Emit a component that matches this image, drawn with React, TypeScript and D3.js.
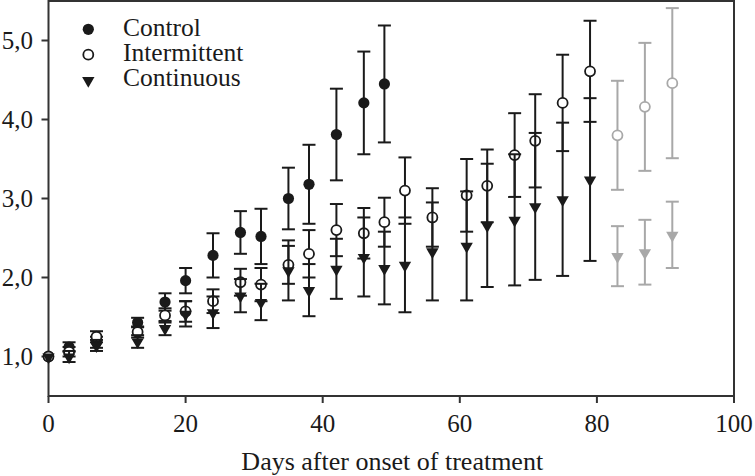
import React from "react";
import * as d3 from "d3";

const days = [0, 3, 7, 13, 17, 20, 24, 28, 31, 35, 38, 42, 46, 49, 52, 56, 61, 64, 68, 71, 75, 79];
const lateDays = [83, 87, 91];

const controlDays = [0, 3, 7, 13, 17, 20, 24, 28, 31, 35, 38, 42, 46, 49];
const controlMean = [1.0, 1.12, 1.18, 1.43, 1.69, 1.96, 2.28, 2.57, 2.52, 3.0, 3.18, 3.81, 4.21, 4.45];
const controlErr = [0, 0.06, 0.07, 0.06, 0.11, 0.16, 0.28, 0.27, 0.35, 0.39, 0.5, 0.58, 0.65, 0.74];

const intermittentMean = [1.0, 1.06, 1.25, 1.31, 1.52, 1.57, 1.7, 1.94, 1.91, 2.16, 2.3, 2.6, 2.56, 2.7, 3.1, 2.76, 3.04, 3.16, 3.55, 3.73, 4.21, 4.61];
const intermittentErr = [0, 0.06, 0.07, 0.07, 0.09, 0.13, 0.15, 0.17, 0.21, 0.24, 0.3, 0.33, 0.32, 0.31, 0.42, 0.37, 0.46, 0.46, 0.53, 0.59, 0.61, 0.64];
const intermittentLateMean = [3.8, 4.16, 4.46];
const intermittentLateErr = [0.69, 0.81, 0.95];

const continuousMean = [1.0, 1.0, 1.14, 1.19, 1.36, 1.54, 1.56, 1.77, 1.69, 2.09, 1.84, 2.11, 2.26, 2.12, 2.16, 2.33, 2.4, 2.66, 2.73, 2.9, 2.99, 3.24];
const continuousErr = [0, 0.07, 0.07, 0.08, 0.09, 0.16, 0.2, 0.21, 0.23, 0.38, 0.33, 0.38, 0.5, 0.46, 0.6, 0.62, 0.69, 0.78, 0.83, 0.93, 0.97, 1.03];
const continuousLateMean = [2.27, 2.32, 2.54];
const continuousLateErr = [0.38, 0.41, 0.42];

const xTicks = [0, 20, 40, 60, 80, 100];
const yTicks = [1, 2, 3, 4, 5];
const legendLabels = ["Control", "Intermittent", "Continuous"];

const W = 755;
const H = 476;
const FONT = "'Liberation Serif', 'Times New Roman', serif";
const INK = "#1a1a1a";
const GRAY = "#a8a8a8";

type Kind = "filled" | "open" | "tri";

const x = d3.scaleLinear().domain([0, 100]).range([48.5, 734]);
const y = d3.scaleLinear().domain([0.5, 5.5]).range([396, 1]);

const triPath = d3.symbol().type(d3.symbolTriangle).size(66)() as string;

function Marker({ cx, cy, kind, color }: { cx: number; cy: number; kind: Kind; color: string }) {
  if (kind === "filled") return <circle cx={cx} cy={cy} r={5.6} fill={color} />;
  if (kind === "open")
    return <circle cx={cx} cy={cy} r={5} fill="#fff" stroke={color} strokeWidth={1.8} />;
  return <path d={triPath} transform={`translate(${cx},${cy + 0.5}) rotate(180)`} fill={color} />;
}

function Series({
  xs,
  means,
  errs,
  kind,
  color,
}: {
  xs: number[];
  means: number[];
  errs: number[];
  kind: Kind;
  color: string;
}) {
  const cap = 6.5;
  return (
    <g>
      {xs.map((d, i) => {
        if (!errs[i]) return null;
        const px = x(d);
        const top = y(means[i] + errs[i]);
        const bot = y(means[i] - errs[i]);
        return (
          <g key={"e" + i} stroke={color} strokeWidth={2}>
            <line x1={px} x2={px} y1={top} y2={bot} />
            <line x1={px - cap} x2={px + cap} y1={top} y2={top} />
            <line x1={px - cap} x2={px + cap} y1={bot} y2={bot} />
          </g>
        );
      })}
      {xs.map((d, i) => (
        <Marker key={"m" + i} cx={x(d)} cy={y(means[i])} kind={kind} color={color} />
      ))}
    </g>
  );
}

export default function App() {
  const [x0, x1] = x.range();
  const [y0, y1] = y.range();
  const kinds: Kind[] = ["filled", "open", "tri"];
  return (
    <svg
      width={W}
      height={H}
      style={{ position: "absolute", left: 0, top: 0, background: "#fff" }}
      fontFamily={FONT}
    >
      <rect x={0} y={0} width={W} height={H} fill="#fff" />
      <rect x={x0} y={y1} width={x1 - x0} height={y0 - y1} fill="none" stroke="#333" strokeWidth={2} />
      {yTicks.map((t) => (
        <g key={"y" + t}>
          <line x1={x0 - 7} x2={x0} y1={y(t)} y2={y(t)} stroke="#333" strokeWidth={2} />
          <text x={33} y={y(t)} dy="0.35em" textAnchor="end" fontSize={25} fill={INK}>
            {t.toFixed(1).replace(".", ",")}
          </text>
        </g>
      ))}
      {xTicks.map((t) => (
        <g key={"x" + t}>
          <line x1={x(t)} x2={x(t)} y1={y0} y2={y0 + 7} stroke="#333" strokeWidth={2} />
          <text x={x(t)} y={432} textAnchor="middle" fontSize={25} fill={INK}>
            {t}
          </text>
        </g>
      ))}
      <text x={(x0 + x1) / 2 + 1} y={470} textAnchor="middle" fontSize={26} fill={INK}>
        Days after onset of treatment
      </text>

      <Series xs={controlDays} means={controlMean} errs={controlErr} kind="filled" color={INK} />
      <Series xs={days} means={intermittentMean} errs={intermittentErr} kind="open" color={INK} />
      <Series xs={days} means={continuousMean} errs={continuousErr} kind="tri" color={INK} />
      <Series xs={lateDays} means={intermittentLateMean} errs={intermittentLateErr} kind="open" color={GRAY} />
      <Series xs={lateDays} means={continuousLateMean} errs={continuousLateErr} kind="tri" color={GRAY} />

      {legendLabels.map((lab, i) => (
        <g key={lab}>
          <Marker cx={88.3} cy={29.3 + i * 25.4} kind={kinds[i]} color={INK} />
          <text x={123} y={35.5 + i * 25.4} fontSize={25.5} fill={INK}>
            {lab}
          </text>
        </g>
      ))}
    </svg>
  );
}
